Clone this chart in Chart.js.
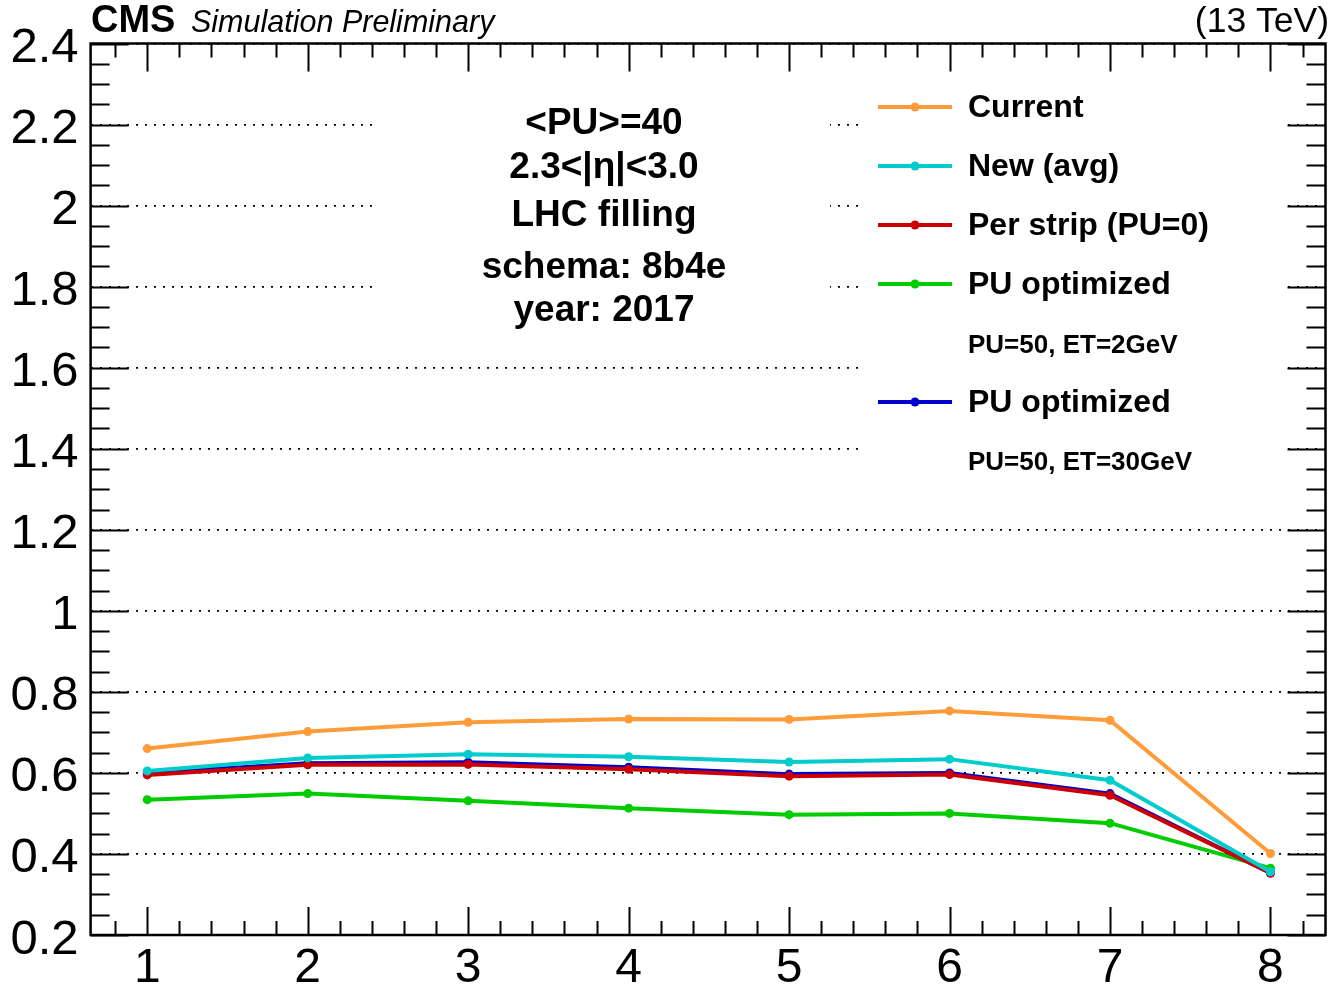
<!DOCTYPE html>
<html>
<head>
<meta charset="utf-8">
<style>
  html, body { margin: 0; padding: 0; background: #fff; overflow: hidden; }
  canvas { display: block; }
</style>
<script src="https://cdn.jsdelivr.net/npm/chart.js@4.4.0/dist/chart.umd.min.js"></script>
</head>
<body>
<canvas id="c" width="1330" height="990"></canvas>
<script>
// values
const xValues   = [1, 2, 3, 4, 5, 6, 7, 8];
const current   = [0.660, 0.702, 0.725, 0.733, 0.732, 0.753, 0.730, 0.401];
const newAvg    = [0.605, 0.637, 0.646, 0.640, 0.627, 0.634, 0.582, 0.356];
const perStrip  = [0.595, 0.620, 0.621, 0.609, 0.592, 0.596, 0.545, 0.353];
const puOpt2    = [0.534, 0.549, 0.531, 0.513, 0.497, 0.500, 0.476, 0.365];
const puOpt30   = [0.600, 0.624, 0.626, 0.614, 0.597, 0.600, 0.549, 0.353];

const seriesNames = ['Current', 'New (avg)', 'Per strip (PU=0)', 'PU optimized', 'PU optimized'];
const seriesSub   = [null, null, null, 'PU=50, ET=2GeV', 'PU=50, ET=30GeV'];
const seriesColors = ['#ff9c3a', '#00cccc', '#cc0000', '#00cc00', '#0000cc'];
const infoLines = ['<PU>=40', '2.3<|\u03b7|<3.0', 'LHC filling', 'schema: 8b4e', 'year: 2017'];
const xTickLabels = [1, 2, 3, 4, 5, 6, 7, 8];
const yTickLabels = [0.2, 0.4, 0.6, 0.8, 1, 1.2, 1.4, 1.6, 1.8, 2, 2.2, 2.4];

const FONT = '"Liberation Sans", Arial, Helvetica, sans-serif';
const allSeries = [current, newAvg, perStrip, puOpt2, puOpt30];

const datasets = allSeries.map((vals, i) => ({
  label: seriesNames[i],
  data: xValues.map((x, j) => ({ x: x, y: vals[j] })),
  borderColor: seriesColors[i],
  backgroundColor: seriesColors[i],
  pointBackgroundColor: seriesColors[i],
  pointBorderWidth: 0,
  pointRadius: 4.5,
  borderWidth: 4,
  tension: 0,
  fill: false
}));

// white boxes of the text pave and legend, then frame, ROOT style inner ticks, labels
const rootDeco = {
  id: 'rootDeco',
  beforeDatasetsDraw(chart) {
    const ctx = chart.ctx;
    ctx.save();
    ctx.fillStyle = '#fff';
    ctx.fillRect(378, 90, 452, 250);
    ctx.fillRect(860, 80, 428, 420);
    ctx.restore();
  },
  afterDatasetsDraw(chart) {
    const ctx = chart.ctx;
    const a = chart.chartArea;
    const xs = chart.scales.x, ys = chart.scales.y;
    ctx.save();
    ctx.strokeStyle = '#000';
    ctx.lineWidth = 2;

    // x ticks (bottom and top)
    for (let v = 0.8; v <= xs.max + 1e-6; v += 0.2) {
      const major = Math.abs(v - Math.round(v)) < 1e-6;
      const len = major ? 28 : 14;
      const px = Math.round(xs.getPixelForValue(v)) + 0.5;
      ctx.beginPath();
      ctx.moveTo(px, a.bottom); ctx.lineTo(px, a.bottom - len);
      ctx.moveTo(px, a.top); ctx.lineTo(px, a.top + len);
      ctx.stroke();
    }
    // y ticks (left and right)
    for (let v = ys.min; v <= ys.max + 1e-6; v += 0.05) {
      const major = Math.abs(v * 5 - Math.round(v * 5)) < 1e-6;
      const len = major ? 38 : 19;
      const py = Math.round(ys.getPixelForValue(v)) + 0.5;
      ctx.beginPath();
      ctx.moveTo(a.left, py); ctx.lineTo(a.left + len, py);
      ctx.moveTo(a.right, py); ctx.lineTo(a.right - len, py);
      ctx.stroke();
    }
    ctx.lineWidth = 2.5;
    ctx.strokeRect(a.left, a.top, a.right - a.left, a.bottom - a.top);

    // header
    ctx.fillStyle = '#000';
    ctx.textBaseline = 'alphabetic';
    ctx.textAlign = 'left';
    ctx.font = 'bold 38px ' + FONT;
    ctx.fillText('CMS', 91, 32);
    ctx.font = 'italic 30.5px ' + FONT;
    ctx.fillText('Simulation Preliminary', 191, 32);
    ctx.textAlign = 'right';
    ctx.font = '35.5px ' + FONT;
    ctx.fillText('(13 TeV)', 1329, 32);

    // info text
    ctx.textAlign = 'center';
    ctx.textBaseline = 'middle';
    ctx.font = 'bold 37px ' + FONT;
    const infoY = [124, 168, 216, 268, 311];
    infoLines.forEach((t, i) => ctx.fillText(t, 604, infoY[i]));

    // legend
    const rowY = [107, 166, 225, 284, 402];
    const subY = [null, null, null, 346, 463];
    ctx.textAlign = 'left';
    chart.data.datasets.forEach((ds, i) => {
      ctx.strokeStyle = ds.borderColor;
      ctx.lineWidth = 4;
      ctx.beginPath();
      ctx.moveTo(878, rowY[i]); ctx.lineTo(952, rowY[i]);
      ctx.stroke();
      ctx.fillStyle = ds.borderColor;
      ctx.beginPath();
      ctx.arc(915, rowY[i], 4.5, 0, Math.PI * 2);
      ctx.fill();
      ctx.fillStyle = '#000';
      ctx.font = 'bold 32px ' + FONT;
      ctx.fillText(ds.label, 968, rowY[i] + 1);
      if (seriesSub[i]) {
        ctx.font = 'bold 26px ' + FONT;
        ctx.fillText(seriesSub[i], 968, subY[i]);
      }
    });
    ctx.restore();
  }
};

new Chart(document.getElementById('c'), {
  type: 'line',
  data: { datasets: datasets },
  options: {
    responsive: false,
    animation: false,
    layout: { padding: { top: 43.5, right: -1.4, left: 0, bottom: 0 } },
    plugins: { legend: { display: false }, tooltip: { enabled: false } },
    scales: {
      x: {
        type: 'linear',
        min: 0.647,
        max: 8.343,
        afterBuildTicks: s => { s.ticks = xTickLabels.map(v => ({ value: v })); },
        afterFit: s => { s.height = 55; },
        grid: { display: false, drawTicks: false },
        border: { display: false },
        ticks: {
          color: '#000',
          padding: 5,
          maxRotation: 0,
          autoSkip: false,
          font: { family: FONT, size: 48, lineHeight: 1.2 }
        }
      },
      y: {
        type: 'linear',
        min: 0.2,
        max: 2.4,
        afterBuildTicks: s => { s.ticks = yTickLabels.map(v => ({ value: v })); },
        afterFit: s => { s.width = 90.6; },
        grid: {
          display: true,
          drawTicks: false,
          color: '#000',
          lineWidth: 1.8
        },
        border: { display: false, dash: [2, 7] },
        ticks: {
          color: '#000',
          padding: 12,
          labelOffset: 5,
          autoSkip: false,
          font: { family: FONT, size: 49 },
          callback: v => String(Math.round(v * 10) / 10)
        }
      }
    }
  },
  plugins: [rootDeco]
});
</script>
</body>
</html>
